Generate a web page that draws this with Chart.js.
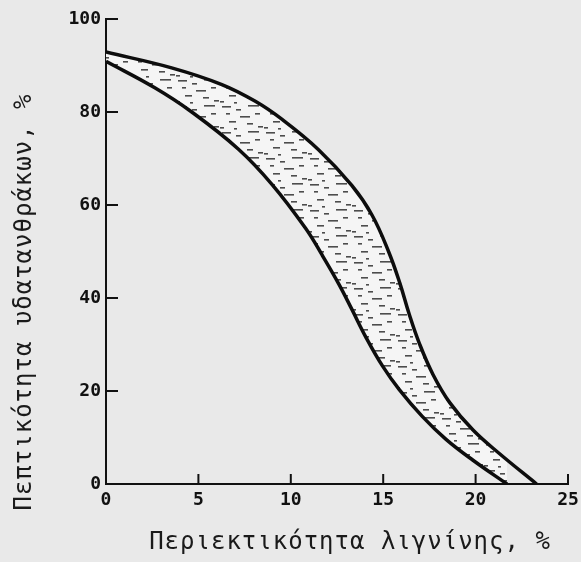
<!DOCTYPE html>
<html><head><meta charset="utf-8">
<script src="https://cdn.jsdelivr.net/npm/chart.js@4"></script>
<style>html,body{margin:0;padding:0;background:#e9e9e9;overflow:hidden}</style>
</head><body>
<canvas id="c" width="581" height="562"></canvas>
<script>
// ---- data ----
const upperX = [0, 3.55, 6.27, 8.08, 9.53, 11.5, 13.3, 14.4, 15.3, 15.9, 16.4, 16.96, 17.7, 18.6, 19.86, 21.3, 23.3];
const upperY = [92.9, 89.5, 85.9, 82.3, 78.4, 71.9, 64.2, 57.8, 49.9, 43.2, 36.6, 30.2, 23.5, 17.5, 11.6, 6.5, 0];
const lowerX = [0, 2.64, 4.64, 7.17, 8.99, 10.8, 11.7, 12.6, 13.3, 14.06, 14.96, 15.87, 17.1, 18.4, 19.86, 21.7];
const lowerY = [90.9, 85.2, 80.0, 72.0, 64.4, 55.0, 49.2, 43.0, 37.6, 31.6, 25.4, 20.3, 14.6, 9.6, 5.1, 0];
const xTicks = [0, 5, 10, 15, 20, 25];
const yTicks = [0, 20, 40, 60, 80, 100];
const xTitle = 'Περιεκτικότητα λιγνίνης, %';
const yTitle = 'Πεπτικότητα υδατανθράκων, %';

const toPts = (xs, ys) => xs.map((x, i) => ({x, y: ys[i]}));

// hatch pattern of short horizontal dashes
function makePattern() {
  const p = document.createElement('canvas');
  p.width = 44; p.height = 26;
  const g = p.getContext('2d');
  g.fillStyle = '#f5f5f5';
  g.fillRect(0, 0, 44, 26);
  g.fillStyle = 'rgba(20,20,20,0.75)';
  const dashes = [[2,2,9],[16,5,5],[28,1,11],[6,9,4],[20,12,10],[35,9,5],[9,17,7],[27,19,6],[0,23,4],[38,22,5],[14,24,3]];
  dashes.forEach(d => g.fillRect(d[0], d[1], d[2], 1.6));
  return g.createPattern(p, 'repeat');
}

const bg = {
  id: 'bg',
  beforeDraw(chart) {
    const c = chart.ctx;
    c.save(); c.fillStyle = '#e9e9e9'; c.fillRect(0, 0, chart.width, chart.height); c.restore();
  }
};

const extras = {
  id: 'extras',
  afterDraw(chart) {
    const {ctx, scales: {x, y}, chartArea: a} = chart;
    ctx.save();
    ctx.strokeStyle = '#111'; ctx.lineWidth = 2;
    yTicks.forEach(v => {
      if (v === 0) return;
      const py = y.getPixelForValue(v);
      ctx.beginPath(); ctx.moveTo(a.left, py); ctx.lineTo(a.left + 12, py); ctx.stroke();
    });
    xTicks.forEach(v => {
      if (v === 0) return;
      const px = x.getPixelForValue(v);
      ctx.beginPath(); ctx.moveTo(px, a.bottom); ctx.lineTo(px, a.bottom - 10); ctx.stroke();
    });
    ctx.fillStyle = '#1a1a1a';
    ctx.font = '24px "DejaVu Sans Mono"';
    try { ctx.letterSpacing = '1px'; } catch (e) {}
    ctx.textAlign = 'center'; ctx.textBaseline = 'middle';
    ctx.fillText(xTitle, 350, 543);
    ctx.translate(25, 302); ctx.rotate(-Math.PI / 2);
    ctx.fillText(yTitle, 0, 0);
    ctx.restore();
  }
};

new Chart(document.getElementById('c'), {
  type: 'line',
  data: {
    datasets: [
      { data: toPts(upperX, upperY), borderColor: '#0d0d0d', borderWidth: 3.5, pointRadius: 0,
        tension: 0.4, fill: '+1', backgroundColor: makePattern() },
      { data: toPts(lowerX, lowerY), borderColor: '#0d0d0d', borderWidth: 3.5, pointRadius: 0,
        tension: 0.4, fill: false }
    ]
  },
  options: {
    responsive: false, animation: false, devicePixelRatio: 1,
    layout: { padding: { left: 0, right: 13, top: 19, bottom: 0 } },
    plugins: { legend: { display: false }, tooltip: { enabled: false }, filler: { drawTime: 'beforeDatasetsDraw' } },
    scales: {
      x: {
        type: 'linear', min: 0, max: 25,
        afterBuildTicks: s => { s.ticks = xTicks.map(v => ({value: v})); },
        afterFit: s => { s.height = 78; s.paddingRight = 0; s.paddingLeft = 0; },
        grid: { display: false, drawTicks: false },
        border: { display: true, color: '#111', width: 2 },
        ticks: { color: '#111', padding: 6, font: { family: 'DejaVu Sans Mono', size: 18, weight: 'bold' }, maxRotation: 0 }
      },
      y: {
        type: 'linear', min: 0, max: 100,
        afterBuildTicks: s => { s.ticks = yTicks.map(v => ({value: v})); },
        afterFit: s => { s.width = 106; s.paddingTop = 0; s.paddingBottom = 0; },
        grid: { display: false, drawTicks: false },
        border: { display: true, color: '#111', width: 2 },
        ticks: { color: '#111', padding: 5, font: { family: 'DejaVu Sans Mono', size: 18, weight: 'bold' } }
      }
    }
  },
  plugins: [bg, extras]
});
</script>
</body></html>
